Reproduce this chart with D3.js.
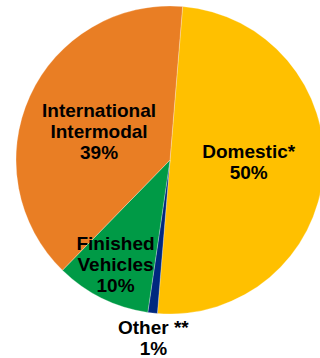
<!DOCTYPE html>
<html>
<head>
<meta charset="utf-8">
<script src="https://cdn.jsdelivr.net/npm/d3@7"></script>
<style>
  html, body { margin: 0; padding: 0; background: #fff; }
  svg { display: block; }
  text { font-family: "Liberation Sans", Arial, sans-serif; font-weight: bold; fill: #000; }
</style>
</head>
<body>
<svg id="chart" width="320" height="358"></svg>
<script>
// Share of traffic by segment (percent)
const categories = ["Domestic*", "Other **", "Finished Vehicles", "International Intermodal"];
const shares = [50, 1, 10, 39];
const labelLines = [
  ["Domestic*", "50%"],
  ["Other **", "1%"],
  ["Finished", "Vehicles", "10%"],
  ["International", "Intermodal", "39%"]
];
const colors = ["#FFC000", "#00287F", "#009A46", "#E97E24"];

// Layout
const width = 320, height = 358;
const cx = 170, cy = 160, radius = 154;
const firstSliceAngle = 0.082;            // first slice begins just past 12 o'clock
const labelRadius = [79, 178, 118, 77];    // distance of each label block from the centre
const labelNudge = [[0, -4.5], [3.5, 0.7], [-2.2, -1.5], [-0.9, 3.5]];
const fontSize = 19;
const lineHeight = 21;
const capHalf = fontSize * 0.716 / 2;

const svg = d3.select("#chart");
const g = svg.append("g").attr("transform", `translate(${cx},${cy})`);

const color = d3.scaleOrdinal().domain(categories).range(colors);

const pie = d3.pie()
  .sort(null)
  .value(d => d.value)
  .startAngle(firstSliceAngle)
  .endAngle(firstSliceAngle + 2 * Math.PI);

const data = categories.map((c, i) => ({
  name: c, value: shares[i], lines: labelLines[i], lr: labelRadius[i], nudge: labelNudge[i]
}));
const arcs = pie(data);

const arc = d3.arc().innerRadius(0).outerRadius(radius);

g.selectAll("path.slice")
  .data(arcs)
  .join("path")
  .attr("class", "slice")
  .attr("d", arc)
  .attr("fill", d => color(d.data.name))
  .attr("stroke", "rgba(255,255,255,0.45)")
  .attr("stroke-width", 0.6);

// Labels: each block centred near its slice's bisector
const labels = g.selectAll("text.label")
  .data(arcs)
  .join("text")
  .attr("class", "label")
  .attr("text-anchor", "middle")
  .style("font-size", fontSize + "px");

labels.each(function(d) {
  const r = d.data.lr;
  const [ax, ay] = d3.arc().innerRadius(r).outerRadius(r).centroid(d);
  const lx = ax + d.data.nudge[0], ly = ay + d.data.nudge[1];
  const n = d.data.lines.length;
  const firstBaseline = ly - (n - 1) * lineHeight / 2 + capHalf;
  d3.select(this).selectAll("tspan")
    .data(d.data.lines)
    .join("tspan")
    .attr("x", lx)
    .attr("y", (t, i) => firstBaseline + i * lineHeight)
    .text(t => t);
});
</script>
</body>
</html>
